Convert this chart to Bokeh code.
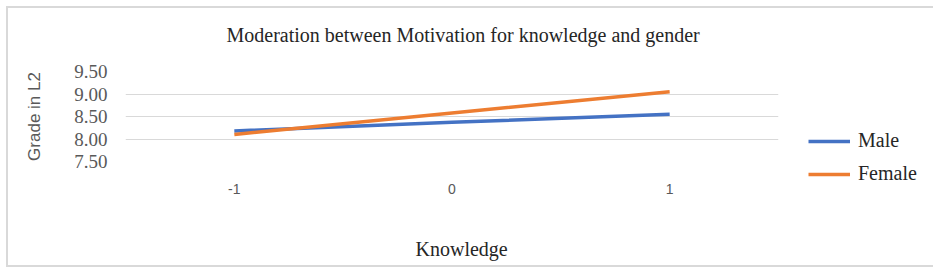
from bokeh.plotting import figure
from bokeh.models import Legend, LegendItem, FixedTicker, Title, ColumnDataSource
from bokeh.embed import file_html
from bokeh.resources import INLINE

categories = ["-1", "0", "1"]
male = [8.18, 8.37, 8.55]
female = [8.10, 8.58, 9.05]
y_ticks = [7.5, 8.0, 8.5, 9.0, 9.5]
y_tick_labels = ["7.50", "8.00", "8.50", "9.00", "9.50"]
title_text = "Moderation between Motivation for knowledge and gender"
x_title = "Knowledge"
y_title = "Grade in L2"

src = ColumnDataSource(dict(x=categories, male=male, female=female))

p = figure(x_range=categories, y_range=(7.5, 9.5),
           width=920, height=257, output_backend="svg", toolbar_location=None,
           title_location=None,
           min_border_left=117, min_border_right=150, min_border_top=63,
           min_border_bottom=104)
p.frame_width = 653
p.frame_height = 90
p.outline_line_color = None
p.background_fill_color = "white"
p.border_fill_color = "white"
p.styles = {"border": "2px solid #d9d9d9", "margin-left": "6px", "margin-top": "6px"}

# grid
p.xgrid.grid_line_color = None
p.ygrid.grid_line_color = "#d9d9d9"
p.ygrid.grid_line_width = 1

# y axis
p.yaxis.ticker = FixedTicker(ticks=y_ticks)
p.yaxis.major_label_overrides = {t: l for t, l in zip(y_ticks, y_tick_labels)}
p.yaxis.axis_line_color = None
p.yaxis.major_tick_line_color = None
p.yaxis.minor_tick_line_color = None
p.yaxis.major_label_text_font = "Liberation Serif"
p.yaxis.major_label_text_font_size = "19px"
p.yaxis.major_label_text_color = "#595959"
p.yaxis.major_label_standoff = 12
p.yaxis.axis_label = y_title
p.yaxis.axis_label_text_font = "Liberation Sans"
p.yaxis.axis_label_text_font_style = "normal"
p.yaxis.axis_label_text_font_size = "17px"
p.yaxis.axis_label_text_color = "#595959"
p.yaxis.axis_label_standoff = 27

# x axis
p.xaxis.axis_line_color = None
p.xaxis.major_tick_line_color = None
p.xaxis.minor_tick_line_color = None
p.xaxis.major_label_text_font = "Liberation Sans"
p.xaxis.major_label_text_font_size = "14px"
p.xaxis.major_label_text_color = "#595959"
p.xaxis.major_label_standoff = 16

# top: spacer (nearest frame) then chart title
p.add_layout(Title(text=" ", text_font_size="2px", standoff=22), "above")
p.add_layout(Title(text=title_text, text_font="Liberation Serif", text_font_style="normal",
                   text_font_size="20px", text_color="#262626", align="left",
                   offset=101, standoff=0), "above")

# bottom: spacer then x-axis title
p.add_layout(Title(text=" ", text_font_size="2px", standoff=35), "below")
p.add_layout(Title(text=x_title, text_font="Liberation Serif", text_font_style="normal",
                   text_font_size="20px", text_color="#262626", align="left",
                   offset=290, standoff=0), "below")

r_m = p.line("x", "male", source=src, line_color="#4472C4", line_width=3.5)
r_f = p.line("x", "female", source=src, line_color="#ED7D31", line_width=3.5)

legend = Legend(items=[LegendItem(label="Male", renderers=[r_m]),
                       LegendItem(label="Female", renderers=[r_f])],
                location=(30, -24), orientation="vertical",
                label_text_font="Liberation Serif", label_text_font_size="20px",
                label_text_color="#262626", glyph_width=42, glyph_height=20,
                spacing=10, border_line_color=None, background_fill_alpha=0,
                padding=0, margin=0, label_standoff=8)
p.add_layout(legend, "right")

open("out.html", "w").write(file_html(p, INLINE))
